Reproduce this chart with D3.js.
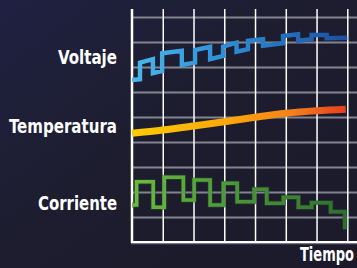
<!DOCTYPE html>
<html>
<head>
<meta charset="utf-8">
<script src="https://cdn.jsdelivr.net/npm/d3@7"></script>
<style>
  html, body { margin: 0; padding: 0; background: #1d1c2d; overflow: hidden; }
  svg { display: block; }
</style>
</head>
<body>
<div id="chart"></div>
<script>
// Series names (left labels) and x title
const seriesNames = ["Voltaje", "Temperatura", "Corriente"];
const seriesLabelY = [7.4, 4.64, 1.56];
const xTitle = "Tiempo";

// Voltaje: vertices of the stepped line (time, value)
const voltT = [0, 0.26, 0.26, 0.68, 0.68, 0.98, 0.98, 1.62, 1.62, 2.05, 2.05, 2.54, 2.54, 2.96, 2.96, 3.40, 3.40, 3.77, 3.77, 4.26, 4.26, 4.91, 4.91, 5.40, 5.40, 5.84, 5.84, 6.33, 6.33, 7.0];
const voltV = [6.48, 6.51, 7.17, 7.31, 6.75, 6.84, 7.55, 7.65, 7.08, 7.17, 7.68, 7.81, 7.31, 7.44, 7.81, 7.97, 7.61, 7.71, 8.05, 8.11, 7.85, 7.95, 8.24, 8.31, 8.05, 8.11, 8.28, 8.28, 8.15, 8.17];

// Temperatura: smooth curve
const tempT = [0, 1, 2, 3, 4, 5, 6, 6.95];
const tempV = [4.35, 4.48, 4.64, 4.81, 4.99, 5.15, 5.25, 5.31];

// Corriente: step starts (time, value)
const corrT = [0, 0.15, 0.69, 1.05, 1.67, 2.02, 2.54, 2.97, 3.42, 3.97, 4.38, 4.92, 5.41, 5.84, 6.46, 6.92];
const corrV = [1.48, 2.41, 1.39, 2.59, 1.68, 2.48, 1.48, 2.35, 1.61, 2.11, 1.55, 1.79, 1.39, 1.57, 1.21, 0.51];

const width = 357;
const height = 268;
const margin = {top: 9, right: 10, bottom: 26, left: 132};

const x = d3.scaleLinear().domain([0, 7]).range([132, 347.3]);
const y = d3.scaleLinear().domain([0, 9]).range([242, 17]);

const svg = d3.select("#chart")
    .append("svg")
    .attr("width", width)
    .attr("height", height);

const defs = svg.append("defs");

// background
const bg = defs.append("linearGradient").attr("id", "bg")
    .attr("x1", 0).attr("y1", 0).attr("x2", 1).attr("y2", 1);
bg.append("stop").attr("offset", "0%").attr("stop-color", "#202142");
bg.append("stop").attr("offset", "45%").attr("stop-color", "#1d1d2f");
bg.append("stop").attr("offset", "100%").attr("stop-color", "#1c1a2a");
svg.append("rect").attr("width", width).attr("height", height).attr("fill", "url(#bg)");

function grad(id, stops) {
    const g = defs.append("linearGradient").attr("id", id)
        .attr("gradientUnits", "userSpaceOnUse")
        .attr("x1", x(0)).attr("x2", x(7)).attr("y1", 0).attr("y2", 0);
    stops.forEach(s => g.append("stop").attr("offset", s[0]).attr("stop-color", s[1]));
}
grad("gVolt", [["0%", "#4ab8ec"], ["50%", "#2a88d2"], ["100%", "#1b4f9f"]]);
grad("gTemp", [["0%", "#ffcc00"], ["45%", "#ffa60a"], ["75%", "#f4801a"], ["100%", "#e63c1e"]]);
grad("gCorr", [["0%", "#6bbb3e"], ["45%", "#4d983a"], ["100%", "#2e6e2e"]]);

// horizontal grid (gray)
svg.append("g")
    .attr("transform", `translate(${x(0)},0)`)
    .call(d3.axisLeft(y).tickValues(d3.range(1, 10)).tickSize(-(width - x(0))).tickFormat(""))
    .call(g => g.select(".domain").remove())
    .call(g => g.selectAll(".tick line").attr("stroke", "#84848f").attr("stroke-width", 2));

// vertical grid (white)
svg.append("g")
    .attr("transform", `translate(0,${y(0)})`)
    .call(d3.axisBottom(x).tickValues(d3.range(1, 8)).tickSize(-(y(0) - margin.top)).tickFormat(""))
    .call(g => g.select(".domain").remove())
    .call(g => g.selectAll(".tick line").attr("stroke", "#ffffff").attr("stroke-width", 1.5));

// axes lines
svg.append("line")
    .attr("x1", x(0) - 1).attr("x2", width).attr("y1", y(0) + 1.5).attr("y2", y(0) + 1.5)
    .attr("stroke", "#77778a").attr("stroke-width", 1.5);
svg.append("line")
    .attr("x1", x(0) - 1).attr("x2", width).attr("y1", y(0)).attr("y2", y(0))
    .attr("stroke", "#ffffff").attr("stroke-width", 2);
svg.append("line")
    .attr("x1", x(0)).attr("x2", x(0)).attr("y1", margin.top).attr("y2", y(0) + 1)
    .attr("stroke", "#ffffff").attr("stroke-width", 2.5);

// lines
const voltLine = d3.line().x((d, i) => x(voltT[i])).y(d => y(d));
svg.append("path")
    .attr("d", voltLine(voltV))
    .attr("fill", "none")
    .attr("stroke", "url(#gVolt)")
    .attr("stroke-width", 4.4)
    .attr("stroke-linejoin", "miter");

const tempLine = d3.line().x((d, i) => x(tempT[i])).y(d => y(d)).curve(d3.curveMonotoneX);
svg.append("path")
    .attr("d", tempLine(tempV))
    .attr("fill", "none")
    .attr("stroke", "url(#gTemp)")
    .attr("stroke-width", 7);

const corrLine = d3.line().x((d, i) => x(corrT[i])).y(d => y(d)).curve(d3.curveStepAfter);
svg.append("path")
    .attr("d", corrLine(corrV))
    .attr("fill", "none")
    .attr("stroke", "#2a5a2a")
    .attr("stroke-width", 5)
    .attr("stroke-opacity", 0.6);
svg.append("path")
    .attr("d", corrLine(corrV))
    .attr("fill", "none")
    .attr("stroke", "url(#gCorr)")
    .attr("stroke-width", 3.6);

// labels (condensed bold: squeeze to the widths seen in the original)
const font = "'Liberation Sans Narrow', 'DejaVu Sans Condensed', 'DejaVu Sans', sans-serif";
const labelWidths = [59, 108, 79];
svg.append("g")
    .selectAll("text")
    .data(seriesNames)
    .join("text")
    .attr("x", 117)
    .attr("y", (d, i) => y(seriesLabelY[i]))
    .attr("dy", "0.36em")
    .attr("text-anchor", "end")
    .attr("fill", "#ffffff")
    .attr("font-family", font)
    .attr("font-weight", "bold")
    .attr("font-size", 20)
    .attr("textLength", (d, i) => labelWidths[i])
    .attr("lengthAdjust", "spacingAndGlyphs")
    .text(d => d);

// x title, squeezed with a scale so it stays inside the frame
const title = svg.append("text")
    .attr("fill", "#ffffff")
    .attr("font-family", font)
    .attr("font-weight", "bold")
    .attr("font-size", 19)
    .text(xTitle);
const tw = title.node().getComputedTextLength();
title.attr("transform", `translate(300,261) scale(${54 / tw},1)`);
</script>
</body>
</html>
